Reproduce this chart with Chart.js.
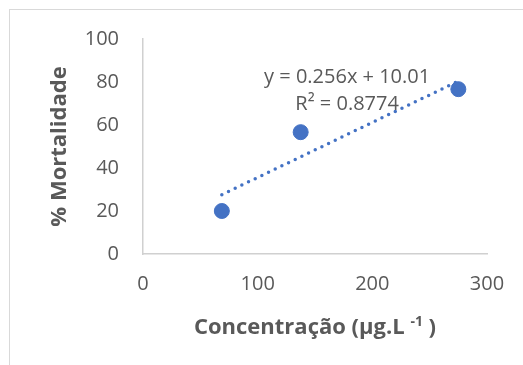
<!DOCTYPE html>
<html>
<head>
<meta charset="utf-8">
<script src="https://cdn.jsdelivr.net/npm/chart.js@4"></script>
<style>
	body { margin: 0; background: #fff; }
	#frame { position: absolute; left: 9px; top: 9px; width: 600px; height: 420px; border: 1.5px solid #d9d9d9; }
	#mortality-chart { position: absolute; left: 0; top: 0; }
</style>
</head>
<body>
<div id="frame"></div>
<canvas id="mortality-chart" width="523" height="365"></canvas>
<script>
// concentration (µg/L) vs % mortality
const concentration = [68.75, 137.5, 275];
const mortality = [20, 56.67, 76.67];

// linear trendline end points
const trendX = [68.75, 275];
const trendY = [27.6, 80.4];

// equation label, anchored in data units
const labelText = ["y = 0.256x + 10.01", "R² = 0.8774"];
const labelX = [178, 178];
const labelY = [82, 69.5];

// x title: main text, superscript, closing part
const xTitle = ["Concentração (µg.L ", "-1", " )"];

const textColor = "#595959";
const blue = "#4472C4";

const chartCtx = document.getElementById("mortality-chart");

const trendLabel = {
	id: "trendLabel",
	afterDatasetsDraw(chart) {
		const { ctx, scales } = chart;
		ctx.save();
		ctx.font = "20px 'Open Sans'";
		ctx.fillStyle = textColor;
		ctx.textAlign = "center";
		ctx.textBaseline = "middle";
		labelText.forEach((t, i) => {
			ctx.fillText(t, scales.x.getPixelForValue(labelX[i]), scales.y.getPixelForValue(labelY[i]));
		});
		ctx.restore();
	},
};

// x axis title with a real superscript
const xTitlePlugin = {
	id: "xTitle",
	afterDraw(chart) {
		const { ctx, chartArea, scales } = chart;
		const big = "bold 22px 'Open Sans'";
		const small = "bold 14px 'Open Sans'";
		ctx.save();
		ctx.fillStyle = textColor;
		ctx.textBaseline = "alphabetic";
		ctx.textAlign = "left";
		ctx.font = big;
		const w0 = ctx.measureText(xTitle[0]).width;
		const w2 = ctx.measureText(xTitle[2]).width;
		ctx.font = small;
		const w1 = ctx.measureText(xTitle[1]).width;
		const total = w0 + w1 + w2;
		let x = (chartArea.left + chartArea.right) / 2 - total / 2;
		const base = scales.x.bottom - 31;
		ctx.font = big;
		ctx.fillText(xTitle[0], x, base);
		x += w0;
		ctx.font = small;
		ctx.fillText(xTitle[1], x, base - 8);
		x += w1;
		ctx.font = big;
		ctx.fillText(xTitle[2], x, base);
		ctx.restore();
	},
};

const points = concentration.map((c, i) => ({ x: c, y: mortality[i] }));
const trend = trendX.map((c, i) => ({ x: c, y: trendY[i] }));

new Chart(chartCtx, {
	type: "scatter",
	data: {
		datasets: [
			{
				label: "trend",
				data: trend,
				showLine: true,
				borderColor: blue,
				borderWidth: 3.5,
				borderDash: [0, 7.4],
				borderCapStyle: "round",
				pointRadius: 0,
				order: 2,
			},
			{
				label: "mortalidade",
				data: points,
				backgroundColor: blue,
				borderColor: blue,
				pointRadius: 7.5,
				order: 1,
			},
		],
	},
	options: {
		responsive: false,
		animation: false,
		layout: { padding: { left: 0, right: 36, top: 39, bottom: 0 } },
		scales: {
			x: {
				type: "linear",
				min: 0,
				max: 300,
				afterFit: (s) => { s.height = 111; },
				grid: { display: false, drawTicks: false },
				border: { display: true, color: "#d0d0d0", width: 1.5 },
				ticks: {
					stepSize: 100,
					padding: 18,
					color: textColor,
					font: { family: "Open Sans", size: 20 },
				},
			},
			y: {
				min: 0,
				max: 100,
				afterFit: (s) => { s.width = 143; },
				grid: { display: false, drawTicks: false },
				border: { display: true, color: "#d0d0d0", width: 1.5 },
				ticks: {
					stepSize: 20,
					padding: 24,
					color: textColor,
					font: { family: "Open Sans", size: 20 },
				},
				title: {
					display: true,
					text: "% Mortalidade",
					color: textColor,
					font: { family: "Open Sans", size: 22, weight: "bold" },
					padding: { top: 47, bottom: 0 },
				},
			},
		},
		plugins: {
			legend: { display: false },
			tooltip: { enabled: false },
		},
	},
	plugins: [trendLabel, xTitlePlugin],
});
</script>
</body>
</html>
